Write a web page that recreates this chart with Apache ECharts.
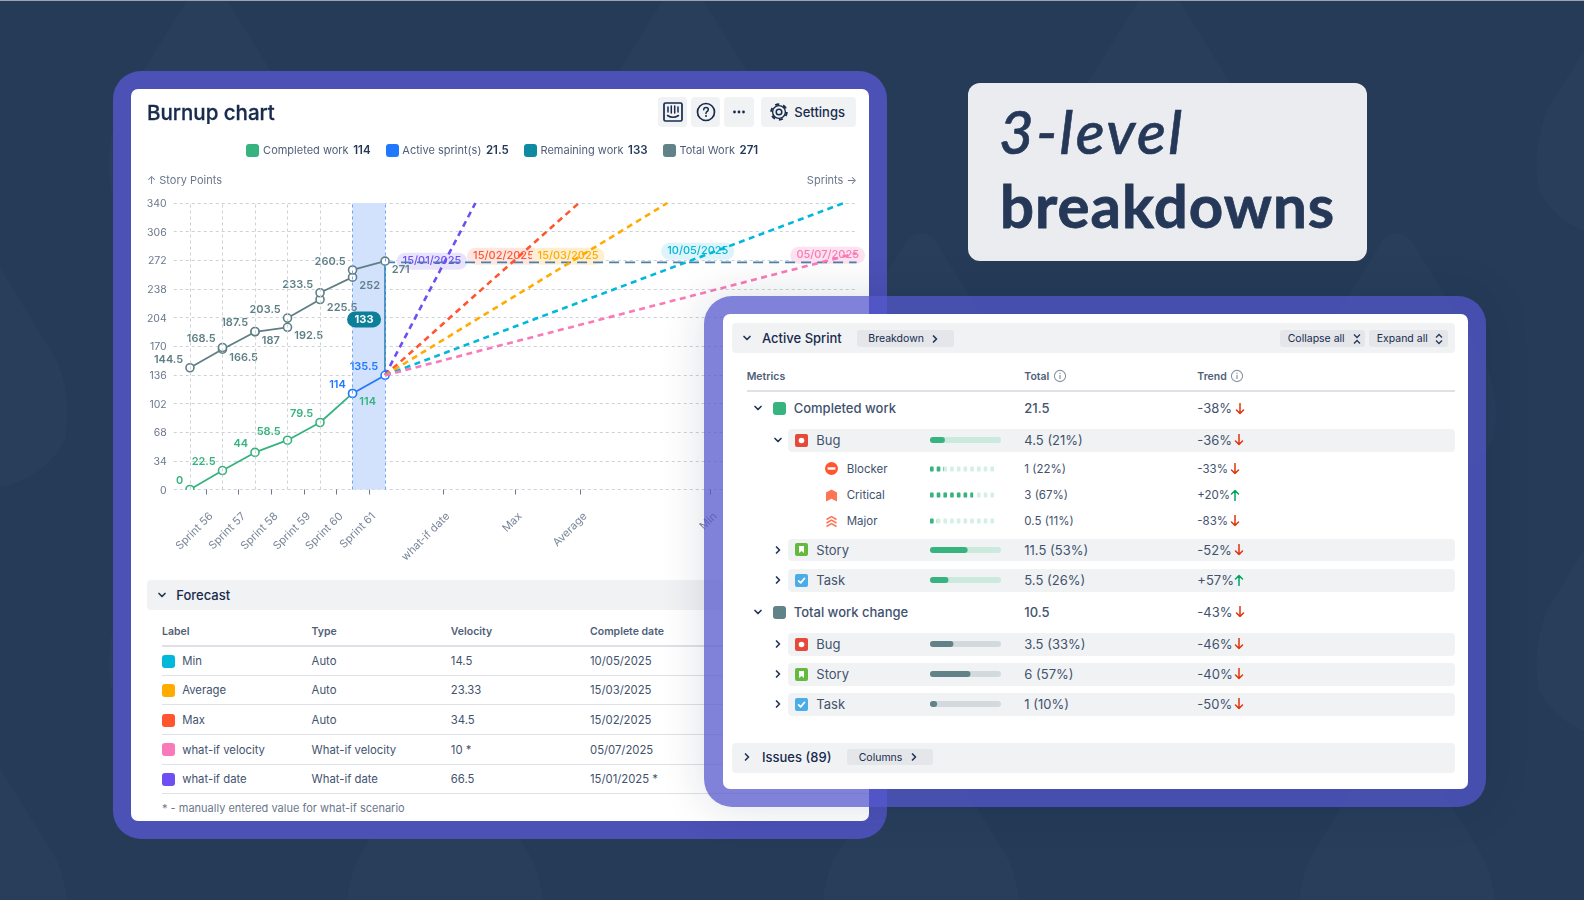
<!DOCTYPE html>
<html>
<head>
<meta charset="utf-8">
<title>Burnup chart</title>
<script src="https://cdn.jsdelivr.net/npm/echarts@6/dist/echarts.min.js"></script>
<style>
  html, body { margin: 0; padding: 0; width: 1584px; height: 900px; overflow: hidden; background: #263b58; font-family: Inter, "Noto Sans", sans-serif; color: #42526e; }
  #page { position: absolute; left: 0; top: 0; width: 1584px; height: 900px; overflow: hidden; }
  .a { position: absolute; white-space: nowrap; }
  .c { transform: translateY(-50%); }
  .btn { background: #f1f2f4; border-radius: 4px; }
  #legend { display: flex; align-items: center; font-size: 11px; color: #505f79; }
  #legend .sw { width: 13px; height: 13px; border-radius: 3px; margin-right: 3.8px; }
  #legend b { color: #253858; font-weight: 600; font-size: 11.5px; margin-left: 4.5px; margin-right: 15px; }
</style>
</head>
<body>
<div id="page"></div>
<script>
// burnup chart data
var sprintTicks = [0.5, 1.5, 2.5, 3.5, 4.5, 5.5, 7.78, 10, 12, 16];
var tickLabels = ['Sprint 56', 'Sprint 57', 'Sprint 58', 'Sprint 59', 'Sprint 60', 'Sprint 61', 'what-if date', 'Max', 'Average', 'Min'];
var completedValues = [0, 22.5, 44, 58.5, 79.5, 114];
var activeValues = [114, 135.5];
var totalStart = [144.5, 168.5, 187.5, 203.5, 233.5, 260.5];
var totalEnd = [166.5, 187, 192.5, 225.5, 252, 271];
var totalWork = 271;
var scopeLine = 269.5;

// forecast lines, all start at the end of the active sprint
var forecastCross = [7.84, 9.95, 11.75, 15.34, 19.55];
var forecastEndX = [8.78, 11.96, 14.68, 20.11, 20.5];
var forecastEndY = [340, 340, 340, 340, 280.5];
var forecastColors = ['#6f4ef2', '#ff5630', '#ffab00', '#00b8d9', '#f97ab8'];
var forecastPills = ['#e9e4fd', '#ffe7e1', '#ffefd0', '#dff4fa', '#fde3f0'];
var forecastDateLabels = ['15/01/2025', '15/02/2025', '15/03/2025', '10/05/2025', '05/07/2025'];
var forecastOffsets = [[-13, 0], [-10, -5], [-4, -5], [9, -10], [2, -6]];

// legend
var legendNames = ['Completed work', 'Active sprint(s)', 'Remaining work', 'Total Work'];
var legendValues = ['114', '21.5', '133', '271'];
var legendColors = ['#36b37e', '#2178ff', '#0e8aa3', '#618287'];

// forecast table
var tableLabels = ['Min', 'Average', 'Max', 'what-if velocity', 'what-if date'];
var tableColors = ['#00b8d9', '#ffab00', '#ff5630', '#f97ab8', '#6f4ef2'];
var tableTypes = ['Auto', 'Auto', 'Auto', 'What-if velocity', 'What-if date'];
var tableVelocity = ['14.5', '23.33', '34.5', '10 *', '66.5'];
var tableDates = ['10/05/2025', '15/03/2025', '15/02/2025', '05/07/2025', '15/01/2025 *'];

// breakdown rows
var rowNames = ['Bug', 'Blocker', 'Critical', 'Major', 'Story', 'Task', 'Bug', 'Story', 'Task'];
var rowIcons = ['bug', 'blocker', 'critical', 'major', 'story', 'task', 'bug', 'story', 'task'];
var rowTotals = ['4.5 (21%)', '1 (22%)', '3 (67%)', '0.5 (11%)', '11.5 (53%)', '5.5 (26%)', '3.5 (33%)', '6 (57%)', '1 (10%)'];
var rowShares = [21, 22, 67, 11, 53, 26, 33, 57, 10];
var rowTrends = ['-36%', '-33%', '+20%', '-83%', '-52%', '+57%', '-46%', '-40%', '-50%'];
var rowGroup = ['done', 'done', 'done', 'done', 'done', 'done', 'total', 'total', 'total'];
var rowLevel = [1, 2, 2, 2, 1, 1, 1, 1, 1];
var rowOpen = [true, false, false, false, false, false, false, false, false];
var rowY = [440, 468.5, 495, 521.3, 549.5, 580, 644, 674, 704];

var page = document.getElementById('page');

function el(css, html, cls) {
  var d = document.createElement('div');
  d.className = 'a ' + (cls || '');
  d.style.cssText = css;
  if (html) d.innerHTML = html;
  page.appendChild(d);
  return d;
}
function text(x, y, str, size, color, weight, z) {
  return el('left:' + x + 'px;top:' + y + 'px;font-size:' + size + 'px;color:' + color + ';font-weight:' + (weight || 400) + ';z-index:' + z, str, 'c');
}
function svg(cx, cy, w, h, inner, z) {
  return el('left:' + (cx - w / 2) + 'px;top:' + (cy - h / 2) + 'px;width:' + w + 'px;height:' + h + 'px;z-index:' + z,
    '<svg width="' + w + '" height="' + h + '" viewBox="0 0 ' + w + ' ' + h + '" style="display:block">' + inner + '</svg>');
}
function chevDown(cx, cy, z) {
  svg(cx, cy, 10, 10, '<path d="M2 3.5 L5 6.5 L8 3.5" fill="none" stroke="#253858" stroke-width="1.7" stroke-linecap="round" stroke-linejoin="round"/>', z);
}
function chevRight(cx, cy, z) {
  svg(cx, cy, 10, 10, '<path d="M3.5 2 L6.5 5 L3.5 8" fill="none" stroke="#253858" stroke-width="1.7" stroke-linecap="round" stroke-linejoin="round"/>', z);
}
function infoIcon(cx, cy, z) {
  svg(cx, cy, 14, 14, '<circle cx="7" cy="7" r="5.6" fill="none" stroke="#8993a4" stroke-width="1.1"/><rect x="6.4" y="6" width="1.2" height="4" fill="#8993a4"/><rect x="6.4" y="3.8" width="1.2" height="1.3" fill="#8993a4"/>', z);
}
function arrow(cx, cy, up, z) {
  var p = up ? 'M6 11.5 V1.5 M2.5 5 L6 1.5 L9.5 5' : 'M6 .5 V10.5 M2.5 7 L6 10.5 L9.5 7';
  svg(cx, cy, 12, 12, '<path d="' + p + '" fill="none" stroke="' + (up ? '#00a45e' : '#de350b') + '" stroke-width="1.5" stroke-linecap="round" stroke-linejoin="round"/>', z);
}
function issueIcon(kind, cx, cy, z) {
  var s = '';
  if (kind == 'bug') s = '<rect width="13" height="13" rx="2" fill="#e5493a"/><circle cx="6.5" cy="6.5" r="2.8" fill="#fff"/>';
  if (kind == 'story') s = '<rect width="13" height="13" rx="2" fill="#63ba3c"/><path d="M4 3 H9 V10 L6.5 8 L4 10 Z" fill="#fff"/>';
  if (kind == 'task') s = '<rect width="13" height="13" rx="2" fill="#4bade8"/><path d="M3.6 6.8 L5.7 8.9 L9.6 4.3" fill="none" stroke="#fff" stroke-width="1.7" stroke-linecap="round" stroke-linejoin="round"/>';
  if (kind == 'blocker') s = '<circle cx="6.5" cy="6.5" r="6.5" fill="#ff5630"/><rect x="2.6" y="5.3" width="7.8" height="2.4" fill="#fff"/>';
  if (kind == 'critical') s = '<path d="M6.5 .5 L12 3.5 V12.5 L6.5 9.8 L1 12.5 V3.5 Z" fill="#ff7452"/>';
  if (kind == 'major') s = '<path d="M1.5 4.5 L6.5 1.5 L11.5 4.5 M1.5 8 L6.5 5 L11.5 8 M1.5 11.5 L6.5 8.5 L11.5 11.5" fill="none" stroke="#ff7452" stroke-width="1.5"/>';
  svg(cx, cy, 13, 13, s, z);
}
function rect(x, y, w, h, css) {
  return el('left:' + x + 'px;top:' + y + 'px;width:' + w + 'px;height:' + h + 'px;' + css);
}

// background: faint drop shapes and the light line at the very top
var blobs = '';
for (var r = 0; r < 4; r++) {
  for (var k = -1; k < 7; k++) {
    var bx = 207 + k * 476 + (r % 2 ? 238 : 0);
    var by = r * 250 - 10;
    blobs += '<path transform="translate(' + bx + ',' + by + ')" d="M-14 0 Q0 -14 14 0 L88 120 Q104 160 96 200 Q70 250 0 250 Q-70 250 -96 200 Q-104 160 -88 120 Z" fill="#283e5b"/>';
  }
}
el('left:0;top:0;width:1584px;height:900px;z-index:0', '<svg width="1584" height="900" style="display:block">' + blobs + '</svg>');
rect(0, 0, 1584, 1, 'background:#9aa3b0;z-index:0');

// left card
rect(113, 71, 774, 768, 'background:#4b51b5;border-radius:28px;z-index:1');
rect(131, 89, 738, 732, 'background:#fff;border-radius:7px;z-index:1');

// toolbar
var Z = 3;
rect(658, 97, 29, 30, 'z-index:3;').className = 'a btn';
rect(691, 97, 29, 30, 'z-index:3;').className = 'a btn';
rect(724, 97, 30, 30, 'z-index:3;').className = 'a btn';
rect(761, 97, 95, 30, 'z-index:3;').className = 'a btn';
svg(672.5, 112, 20, 20, '<rect x="1" y="1" width="18" height="18" rx="1.5" fill="none" stroke="#172b4d" stroke-width="1.7"/><path d="M5 5 V10 M8.3 4 V11 M11.7 4 V11 M15 5 V10" stroke="#172b4d" stroke-width="1.5" stroke-linecap="round"/><path d="M4.5 13.5 Q10 17 15.5 13.5" fill="none" stroke="#172b4d" stroke-width="1.5" stroke-linecap="round"/>', Z);
svg(705.5, 112, 20, 20, '<circle cx="10" cy="10" r="8.5" fill="none" stroke="#172b4d" stroke-width="1.7"/><path d="M7.7 7.8 Q7.8 5.6 10 5.6 Q12.3 5.6 12.3 7.6 Q12.3 9 10.8 9.7 Q10 10.1 10 11.4" fill="none" stroke="#172b4d" stroke-width="1.5" stroke-linecap="round"/><circle cx="10" cy="14" r="1" fill="#172b4d"/>', Z);
svg(739, 112, 14, 6, '<circle cx="2.5" cy="3" r="1.4" fill="#172b4d"/><circle cx="7" cy="3" r="1.4" fill="#172b4d"/><circle cx="11.5" cy="3" r="1.4" fill="#172b4d"/>', Z);
svg(779, 112, 20, 20, '<circle cx="10" cy="10" r="2.8" fill="none" stroke="#172b4d" stroke-width="1.5"/><circle cx="10" cy="10" r="6.4" fill="none" stroke="#172b4d" stroke-width="1.4"/><circle cx="10" cy="10" r="7.8" fill="none" stroke="#172b4d" stroke-width="1.9" stroke-dasharray="4.1 4.07"/>', Z);
text(794.3, 111.7, 'Settings', 13, '#172b4d', 500, Z);

// legend
var legend = el('left:246.3px;top:150px;z-index:3', '', 'c');
legend.id = 'legend';
var lh = '';
for (var i = 0; i < legendNames.length; i++) {
  lh += '<span class="sw" style="background:' + legendColors[i] + '"></span><span>' + legendNames[i] + '</span><b>' + legendValues[i] + '</b>';
}
legend.innerHTML = lh;

// forecast table
rect(147, 580, 720, 29.5, 'background:#f1f2f4;border-radius:4px;z-index:2');
chevDown(161.8, 595, Z);
text(176.2, 595, 'Forecast', 13, '#172b4d', 500, Z);
var colX = [162, 311.6, 450.8, 590];
var heads = ['Label', 'Type', 'Velocity', 'Complete date'];
for (var i = 0; i < heads.length; i++) text(colX[i], 630.7, heads[i], 10.5, '#505f79', 600, Z);
rect(162, 644.5, 707, 2, 'background:#dfe1e6;z-index:2');
var tableY = [661, 690, 720, 749.7, 779];
for (var i = 0; i < tableLabels.length; i++) {
  rect(162, tableY[i] - 6.5, 13, 13, 'border-radius:3px;z-index:3;background:' + tableColors[i]);
  text(182.2, tableY[i], tableLabels[i], 11.3, '#42526e', 400, Z);
  text(colX[1], tableY[i], tableTypes[i], 11.3, '#42526e', 400, Z);
  text(colX[2], tableY[i], tableVelocity[i], 11.3, '#42526e', 400, Z);
  text(colX[3], tableY[i], tableDates[i], 11.3, '#42526e', 400, Z);
  rect(162, tableY[i] + 14.3, 707, 1, 'background:#dfe1e6;z-index:2');
}
text(162, 808, '* - manually entered value for what-if scenario', 11, '#6b778c', 400, Z);

// title panel
rect(968.3, 83.3, 398.4, 177.4, 'background:#ebecf0;border-radius:12px;z-index:1');
el('left:999px;top:96px;font:italic 500 60px/70px Lato,sans-serif;letter-spacing:2.4px;color:#253858;z-index:2;-webkit-text-stroke:.6px #253858', '3-level');
el('left:1000px;top:170px;font:700 60px/70px Lato,sans-serif;letter-spacing:1px;color:#253858;z-index:2;-webkit-text-stroke:.8px #253858', 'breakdowns');

// breakdown panel above everything
var P = 5;
rect(704, 296, 782, 511, 'background:rgba(84,86,204,.74);border-radius:28px;z-index:4;box-shadow:0 0 46px rgba(9,30,66,.14)');
rect(723, 314.3, 745, 474.7, 'background:#fff;border-radius:7px;z-index:4');
rect(731.7, 323.3, 723.3, 30, 'background:#f1f2f4;border-radius:4px;z-index:5');
chevDown(746.7, 338, P + 1);
text(762, 338, 'Active Sprint', 13, '#172b4d', 500, P + 1);
rect(856.7, 330, 97.3, 16.8, 'background:#e4e6ea;border-radius:3px;z-index:6');
text(868.3, 338, 'Breakdown', 10.5, '#172b4d', 400, P + 1);
chevRight(935, 338.5, P + 1);
rect(1280, 330, 85, 16.8, 'background:#e4e6ea;border-radius:3px;z-index:6');
text(1287.7, 338, 'Collapse all', 10.5, '#172b4d', 400, P + 1);
svg(1356.7, 338.5, 10, 12, '<path d="M2 1.5 L5 4.5 L8 1.5 M2 10.5 L5 7.5 L8 10.5" fill="none" stroke="#253858" stroke-width="1.3"/>', P + 1);
rect(1369, 330, 78.7, 16.8, 'background:#e4e6ea;border-radius:3px;z-index:6');
text(1376.7, 338, 'Expand all', 10.5, '#172b4d', 400, P + 1);
svg(1439, 338.5, 10, 12, '<path d="M2 4.5 L5 1.5 L8 4.5 M2 7.5 L5 10.5 L8 7.5" fill="none" stroke="#253858" stroke-width="1.3"/>', P + 1);

text(746.7, 376, 'Metrics', 10.5, '#505f79', 600, P);
text(1024.3, 376, 'Total', 10.5, '#505f79', 600, P);
infoIcon(1060, 375.7, P);
text(1197.3, 376, 'Trend', 10.5, '#505f79', 600, P);
infoIcon(1237.3, 375.7, P);
rect(746.7, 389.5, 708.3, 2, 'background:#dfe1e6;z-index:5');

// the two group headers
chevDown(757.7, 408, P);
rect(773, 402, 13, 13, 'background:#36b37e;border-radius:3px;z-index:5');
text(793.7, 408, 'Completed work', 13, '#42526e', 500, P);
text(1024.3, 408, '21.5', 13, '#42526e', 500, P);
text(1197.3, 408, '-38%', 13, '#42526e', 400, P);
arrow(1240.3, 408.7, false, P);
chevDown(757.7, 612.3, P);
rect(773, 605.7, 13, 13, 'background:#618287;border-radius:3px;z-index:5');
text(793.7, 612.3, 'Total work change', 13, '#42526e', 500, P);
text(1024.3, 612.3, '10.5', 13, '#42526e', 500, P);
text(1197.3, 612.3, '-43%', 13, '#42526e', 400, P);
arrow(1240.3, 612.3, false, P);

// small bars and dots are their own little charts
function miniBar(id, share, color, back) {
  var chart = echarts.init(id);
  chart.setOption({
    animation: false,
    grid: { left: 0, right: 0, top: 0, bottom: 0 },
    xAxis: { type: 'value', min: 0, max: 100, show: false },
    yAxis: { type: 'category', data: [''], show: false },
    series: [{ type: 'bar', data: [share], barWidth: 6, silent: true, showBackground: true,
      itemStyle: { color: color, borderRadius: 3 },
      backgroundStyle: { color: back, borderRadius: 3 } }]
  });
}
function miniDots(id, share, color, back) {
  var chart = echarts.init(id);
  var dot = { type: 'pictorialBar', symbol: 'roundRect', symbolSize: [3.6, 5.2], symbolRepeat: 10, symbolBoundingData: 100, symbolPosition: 'start', silent: true };
  chart.setOption({
    animation: false,
    grid: { left: 0, right: 0, top: 0, bottom: 0 },
    xAxis: { type: 'value', min: 0, max: 100, show: false },
    yAxis: { type: 'category', data: [''], show: false },
    series: [
      Object.assign({}, dot, { data: [100], z: 1, itemStyle: { color: back } }),
      Object.assign({}, dot, { data: [share], z: 2, symbolClip: true, itemStyle: { color: color } })
    ]
  });
}

for (var i = 0; i < rowNames.length; i++) {
  var y = rowY[i], sub = rowLevel[i] == 2;
  var fs = sub ? 11.5 : 13;
  if (!sub) {
    rect(788, y - 11, 667, 22.6, 'background:#f1f2f4;border-radius:4px;z-index:5');
    if (rowOpen[i]) chevDown(778.3, y, P); else chevRight(778.3, y, P);
    issueIcon(rowIcons[i], 801.2, y, P);
    text(816.3, y, rowNames[i], fs, '#42526e', 400, P);
  } else {
    issueIcon(rowIcons[i], 831.3, y, P);
    text(846.7, y, rowNames[i], fs, '#42526e', 400, P);
  }
  text(1024.3, y, rowTotals[i], fs, '#42526e', 400, P);
  text(1197.3, y, rowTrends[i], fs, '#42526e', 400, P);
  arrow(sub ? 1234.7 : 1239.3, y, rowTrends[i].charAt(0) == '+', P);

  var green = rowGroup[i] == 'done';
  var box = rect(930, y - 6, sub ? 64 : 71.3, 12, 'z-index:6');
  if (sub) miniDots(box, rowShares[i], '#36b37e', '#d5efe4');
  else miniBar(box, rowShares[i], green ? '#36b37e' : '#618287', green ? '#cbe9dd' : '#d3dadd');
}

// issues bar
rect(731.7, 742.5, 723.3, 30, 'background:#f1f2f4;border-radius:4px;z-index:5');
chevRight(746.7, 757, P);
text(762, 756.8, 'Issues (89)', 13, '#172b4d', 500, P);
rect(847, 748.5, 86.3, 16.8, 'background:#e4e6ea;border-radius:3px;z-index:6');
text(858.7, 756.5, 'Columns', 10.5, '#172b4d', 400, P + 1);
chevRight(914, 757, P + 1);

// ---- the burnup chart itself ----
var chartBox = rect(131, 89, 738, 490, 'z-index:2');
var myChart = echarts.init(chartBox);

var gray = '#5f7f86', greenCol = '#36b37e', blue = '#2178ff', teal = '#1f7ba6', gridCol = '#cdd1d8';

function pt(x, y, side, color) {
  return {
    value: [x, y],
    label: {
      show: true, color: color, fontSize: 11, fontWeight: 600, fontFamily: 'Inter',
      position: side == 'up' ? 'left' : 'right', distance: 2,
      offset: [0, side == 'up' ? -8.5 : 8.5],
      formatter: String(y)
    }
  };
}
function lineSeries(data, color) {
  return {
    type: 'line', data: data, symbol: 'circle', symbolSize: 8, showSymbol: true, showAllSymbol: true,
    lineStyle: { color: color, width: 1.8 },
    itemStyle: { color: '#fff', borderColor: color, borderWidth: 1.6 },
    emphasis: { disabled: true }, silent: true, z: 4
  };
}

var totalData = [];
for (var i = 0; i < totalStart.length; i++) {
  totalData.push(pt(i, totalStart[i], 'up', gray));
  totalData.push(pt(i + 1, totalEnd[i], 'down', gray));
}
var completedData = completedValues.map(function (v, i) {
  return pt(i, v, i == completedValues.length - 1 ? 'down' : 'up', greenCol);
});
var activeData = activeValues.map(function (v, i) { return pt(5 + i, v, 'up', blue); });

var forecastSeries = forecastColors.map(function (col, i) {
  return {
    type: 'line', symbol: 'none', silent: true, z: 6,
    data: [[6, activeValues[1]], [forecastEndX[i], forecastEndY[i]]],
    lineStyle: { color: col, width: 2.6, type: [6, 4.5] },
    emphasis: { disabled: true },
    markPoint: {
      z: 3, silent: true, symbol: 'circle', symbolSize: 0, animation: false,
      data: [{ coord: [forecastCross[i], totalWork] }],
      label: {
        show: true, position: 'inside', offset: forecastOffsets[i], formatter: forecastDateLabels[i],
        color: col, backgroundColor: forecastPills[i], padding: [3, 6], borderRadius: 9,
        fontSize: 11, fontWeight: 500, fontFamily: 'Inter'
      }
    }
  };
});

var guideSeries = {
  type: 'line', data: [], silent: true, z: 1,
  markArea: { silent: true, data: [[{ xAxis: 5 }, { xAxis: 6 }]], itemStyle: { color: '#d2e2fc' } },
  markLine: {
    silent: true, symbol: 'none', animation: false, label: { show: false },
    data: [
      { xAxis: 0, lineStyle: { color: gridCol, type: [3, 3], width: 1 } },
      { xAxis: 1, lineStyle: { color: gridCol, type: [3, 3], width: 1 } },
      { xAxis: 2, lineStyle: { color: gridCol, type: [3, 3], width: 1 } },
      { xAxis: 3, lineStyle: { color: gridCol, type: [3, 3], width: 1 } },
      { xAxis: 4, lineStyle: { color: gridCol, type: [3, 3], width: 1 } },
      { xAxis: 5, lineStyle: { color: '#6da3fb', type: [3, 3], width: 1 } },
      { xAxis: 6, lineStyle: { color: '#6da3fb', type: [3, 3], width: 1 } }
    ]
  }
};

var option = {
  animation: false,
  textStyle: { fontFamily: 'Inter' },
  title: [
    { text: 'Burnup chart', left: 11, top: 9.5, textStyle: { fontSize: 20.5, fontWeight: 500, color: '#172b4d', fontFamily: 'Inter', textBorderColor: '#172b4d', textBorderWidth: 0.3 } },
    { text: '↑ Story Points', left: 11, top: 81, textStyle: { fontSize: 11, fontWeight: 400, color: '#6b778c', fontFamily: 'Inter' } },
    { text: 'Sprints →', right: 7, top: 81, textStyle: { fontSize: 11, fontWeight: 400, color: '#6b778c', fontFamily: 'Inter' } }
  ],
  grid: { left: 42.7, top: 114, width: 682.9, height: 286.5 },
  xAxis: {
    type: 'value', min: -0.5, max: 20.5, offset: 4,
    axisLine: { show: false },
    splitLine: { show: false },
    axisTick: { show: true, length: 5, customValues: sprintTicks, lineStyle: { color: '#6b778c' } },
    axisLabel: {
      customValues: sprintTicks, rotate: 45, margin: 16, showMinLabel: true, showMaxLabel: true,
      fontSize: 11, color: '#7a869a', fontFamily: 'Inter',
      formatter: function (v) { return '{s|' + tickLabels[sprintTicks.indexOf(v)] + '}'; },
      // labels are centred on the tick, the top padding moves them down along the slope
      rich: { s: { fontSize: 11, color: '#7a869a', fontFamily: 'Inter', padding: [14, 0, 0, 0] } }
    }
  },
  yAxis: {
    type: 'value', min: 0, max: 340, interval: 34,
    axisLine: { show: false }, axisTick: { show: false },
    axisLabel: {
      margin: 7, fontSize: 10.5, color: '#6b778c', fontFamily: 'Inter',
      formatter: '{n|{value}}',
      rich: { n: { fontSize: 10.5, color: '#6b778c', fontFamily: 'Inter', padding: [2, 0, 0, 0] } }
    },
    splitLine: { lineStyle: { color: gridCol, type: [3, 3], width: 1 } }
  },
  graphic: [
    // the zero point sits half under the axis
    { type: 'rect', shape: { x: 50, y: 401, width: 20, height: 5 }, style: { fill: '#fff' }, z: 100 }
  ],
  series: [
    guideSeries,
    {
      type: 'line', symbol: 'none', silent: true, z: 3, emphasis: { disabled: true },
      data: [[6, scopeLine], [20.5, scopeLine]],
      lineStyle: { color: '#4a80ad', width: 1.8, type: [10, 6] }
    },
    {
      type: 'line', symbol: 'none', silent: true, z: 3, emphasis: { disabled: true },
      data: [[6, activeValues[1]], [6, totalWork]],
      lineStyle: { color: teal, width: 1.6 },
      markPoint: {
        silent: true, symbol: 'circle', symbolSize: 0, animation: false, z: 7,
        data: [{ coord: [6, 203] }],
        label: {
          show: true, position: 'inside', offset: [-21, 1], formatter: '133', color: '#fff', fontWeight: 700, fontSize: 11,
          fontFamily: 'Inter', backgroundColor: '#0c7f99', padding: [2.5, 7.5], borderRadius: 9
        }
      }
    },
    lineSeries(totalData, gray),
    lineSeries(completedData, greenCol),
    lineSeries(activeData, blue)
  ].concat(forecastSeries)
};
myChart.setOption(option);
</script>
</body>
</html>
